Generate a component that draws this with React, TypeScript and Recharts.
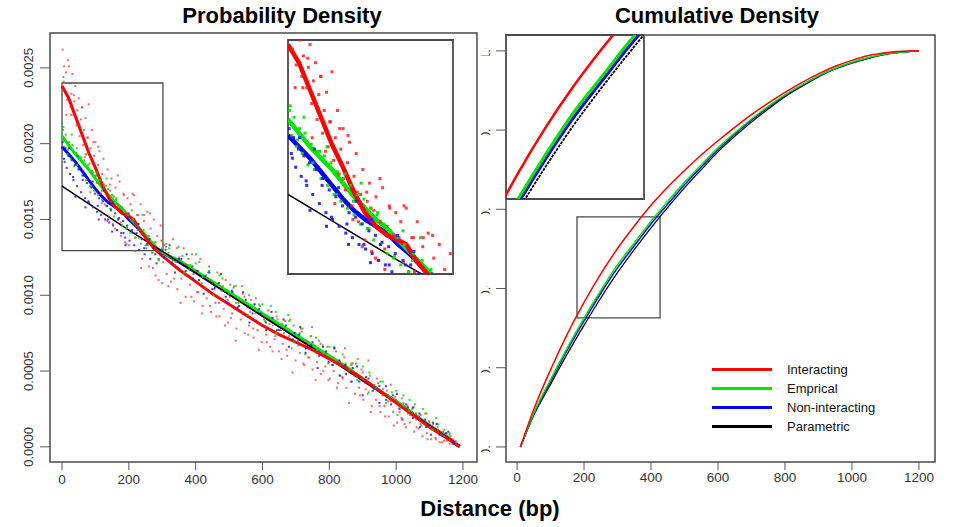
import React from 'react';
import { ComposedChart, Line, Scatter, XAxis, YAxis, ReferenceArea, Legend } from 'recharts';

// ---------------- data ----------------
const xTicks = [0, 200, 400, 600, 800, 1000, 1200];
const densityTicks = [0, 0.0005, 0.001, 0.0015, 0.002, 0.0025];
const cumulativeTicks = [0, 0.2, 0.4, 0.6, 0.8, 1.0];
const legendLabels = ['Interacting', 'Emprical', 'Non-interacting', 'Parametric'];
const panelTitles = ['Probability Density', 'Cumulative Density'];
const xAxisTitle = 'Distance (bp)';

// probability density lines: [distance bp, density]
const densInteracting = [
  [0, 0.00238], [20, 0.0023], [40, 0.00218], [60, 0.00206], [80, 0.00194], [100, 0.00184],
  [120, 0.00173], [140, 0.00164], [160, 0.00158], [180, 0.00154], [200, 0.00152], [215, 0.0015],
  [230, 0.00144], [250, 0.00138], [275, 0.00131], [300, 0.00126], [350, 0.00117], [400, 0.00109],
  [450, 0.00101], [500, 0.00094], [550, 0.00087], [600, 0.0008], [650, 0.00074], [700, 0.00069],
  [750, 0.00064], [800, 0.00058], [850, 0.00052], [900, 0.00045], [950, 0.00037], [1000, 0.00029],
  [1050, 0.00021], [1100, 0.00013], [1150, 0.00006], [1190, 0.0],
];
const densEmpirical = [
  [0, 0.00205], [20, 0.00199], [40, 0.00193], [60, 0.00188], [80, 0.00183], [100, 0.00177],
  [120, 0.00171], [140, 0.00166], [160, 0.00161], [180, 0.00157], [200, 0.00152], [220, 0.00147],
  [240, 0.00142], [260, 0.00137], [280, 0.00132], [300, 0.00128], [350, 0.00123], [400, 0.00116],
  [450, 0.00109], [500, 0.00102], [550, 0.00095], [600, 0.00088], [650, 0.00081], [700, 0.00074],
  [750, 0.00067], [800, 0.0006], [850, 0.00053], [900, 0.00045], [950, 0.00037], [1000, 0.0003],
  [1050, 0.00022], [1100, 0.00014], [1150, 0.00007], [1190, 0.0],
];
const densNonInteracting = [
  [0, 0.00198], [20, 0.00193], [40, 0.00188], [60, 0.00182], [80, 0.00176], [100, 0.0017],
  [120, 0.00165], [140, 0.00161], [160, 0.00158], [180, 0.00155], [200, 0.0015], [220, 0.00146],
  [240, 0.00141], [260, 0.00136], [280, 0.00131], [300, 0.00128], [350, 0.00122], [400, 0.00115],
  [450, 0.00108], [500, 0.00101], [550, 0.00094], [600, 0.00087], [650, 0.0008], [700, 0.00073],
  [750, 0.00066], [800, 0.00059], [850, 0.00052], [900, 0.00045], [950, 0.00037], [1000, 0.0003],
  [1050, 0.00022], [1100, 0.00014], [1150, 0.00007], [1190, 0.0],
];
const densParametric = [
  [0, 0.00172], [200, 0.00143], [400, 0.00115], [600, 0.00086], [800, 0.00058], [1000, 0.00029], [1190, 0.00001],
];

// scatter clouds: [distance bp, density in units of 1e-5]
const cloudUnit = 1e-5;
const cloudInteracting = [
  [2, 262], [4, 244], [6, 251], [8, 236], [12, 247], [15, 229], [18, 255], [22, 240], [25, 224], [28, 233],
  [31, 246], [34, 219], [37, 228], [40, 238], [43, 212], [46, 222], [50, 230], [53, 205], [56, 216], [60, 224],
  [63, 199], [66, 209], [70, 217], [73, 193], [76, 204], [80, 226], [83, 187], [86, 197], [90, 209], [93, 181],
  [96, 192], [100, 201], [104, 174], [108, 186], [112, 195], [116, 167], [120, 180], [124, 190], [128, 160],
  [132, 172], [136, 183], [140, 152], [144, 169], [148, 177], [152, 147], [156, 165], [160, 171], [164, 143],
  [168, 160], [172, 175], [176, 139], [180, 158], [184, 167], [188, 135], [192, 154], [196, 164], [200, 133],
  [205, 160], [210, 142], [215, 166], [220, 129], [225, 153], [230, 138], [235, 160], [240, 124], [245, 149],
  [250, 133], [255, 155], [260, 119], [265, 144], [270, 128], [275, 150], [280, 113], [285, 139], [290, 123],
  [295, 146], [300, 108],
  [5, 241], [13, 219], [21, 251], [27, 219], [36, 232], [44, 197], [52, 212], [59, 224], [68, 191], [77, 204],
  [85, 168], [94, 201], [101, 179], [109, 198], [118, 161], [126, 173], [135, 149], [143, 173], [151, 166],
  [159, 144], [167, 179], [176, 148], [185, 166], [193, 134], [202, 153], [211, 167], [219, 138], [228, 153],
  [237, 118], [246, 153], [254, 133], [263, 154], [272, 118], [281, 132], [289, 110], [297, 136],
  [306, 133], [313, 114], [319, 128], [326, 109], [332, 137], [338, 120], [345, 104],
  [351, 125], [357, 111], [364, 131], [370, 99], [376, 120], [383, 107], [389, 127], [395, 96], [402, 116],
  [408, 102], [414, 124], [421, 93], [427, 112], [433, 98], [440, 119], [446, 89], [452, 108], [459, 95],
  [465, 115], [471, 86], [478, 103], [484, 91], [490, 110], [497, 82], [503, 99], [509, 88], [516, 106],
  [522, 78], [528, 95], [535, 84], [541, 101], [547, 75], [554, 92], [560, 80], [566, 97], [573, 72], [579, 88],
  [585, 77], [592, 93], [598, 69], [604, 84], [611, 74], [617, 90], [623, 66], [630, 80], [636, 71], [642, 86],
  [649, 63], [655, 77], [661, 68], [668, 83], [674, 60], [680, 73], [687, 65], [693, 80], [699, 57], [706, 70],
  [712, 62], [718, 76], [725, 54], [731, 67], [737, 59], [744, 73], [750, 51], [756, 64], [763, 56], [769, 70],
  [775, 48], [782, 61], [788, 53], [794, 66], [801, 45], [807, 57], [813, 50], [820, 63], [826, 42], [832, 54],
  [839, 46], [845, 59], [851, 39], [858, 50], [864, 43], [870, 55], [877, 35], [883, 46], [889, 39], [896, 51],
  [902, 31], [908, 42], [915, 35], [921, 47], [927, 27], [934, 38], [940, 31], [946, 42], [953, 23], [959, 34],
  [965, 27], [972, 37], [978, 20], [984, 30], [991, 23], [997, 33], [1003, 16], [1010, 26], [1016, 19],
  [1022, 29], [1029, 13], [1035, 22], [1041, 16], [1048, 25], [1054, 10], [1060, 18], [1067, 12], [1073, 21],
  [1079, 7], [1086, 15], [1092, 9], [1098, 17], [1105, 5], [1111, 11], [1118, 6], [1124, 13], [1130, 3],
  [1137, 8], [1143, 4], [1150, 9], [1160, 2], [1170, 5], [1180, 1],
  [303, 122], [311, 132], [318, 106], [329, 122], [336, 111], [344, 131], [355, 95], [361, 121], [370, 113],
  [378, 124], [387, 99], [393, 114], [404, 102], [411, 122], [419, 88], [428, 105], [436, 111], [443, 93],
  [455, 104], [462, 86], [470, 95], [481, 106], [488, 80], [496, 97], [505, 85], [513, 105], [520, 70],
  [531, 96], [538, 88], [546, 99], [557, 74], [563, 89], [572, 78], [580, 98], [589, 64], [595, 81], [606, 86],
  [613, 69], [621, 81], [630, 63], [638, 73], [645, 84], [657, 58], [664, 75], [672, 64], [683, 84], [690, 49],
  [698, 75], [707, 67], [715, 78], [722, 55], [733, 69], [740, 59], [748, 79], [759, 44], [765, 62], [774, 68],
  [782, 50], [791, 62], [797, 44], [808, 54], [815, 65], [823, 39], [832, 56], [840, 45], [847, 65], [859, 29],
  [866, 55], [874, 47], [885, 58], [892, 34], [900, 49], [909, 38], [917, 57], [924, 23], [935, 39], [942, 45],
  [950, 27], [961, 38], [967, 20], [976, 30], [984, 41], [993, 14], [999, 31], [1010, 23], [1017, 32],
  [1025, 15], [1034, 27], [1042, 21], [1049, 26], [1061, 13], [1068, 20], [1076, 14], [1087, 22], [1094, 5],
  [1102, 13], [1111, 15], [1119, 5], [1126, 11], [1137, 3], [1144, 11], [1152, 4], [1163, 7], [1169, 2], [1178, 4],
];
const cloudEmpirical = [
  [3, 209], [7, 198], [11, 206], [16, 193], [21, 201], [26, 190], [31, 199], [36, 185], [42, 194], [48, 183],
  [54, 191], [60, 179], [66, 189], [72, 176], [78, 186], [84, 172], [90, 182], [96, 169], [102, 179], [108, 166],
  [114, 176], [120, 163], [126, 172], [132, 159], [138, 170], [144, 157], [150, 166], [156, 152], [162, 163],
  [168, 150], [174, 159], [180, 146], [186, 156], [192, 144], [198, 153], [205, 141], [212, 150], [220, 138],
  [228, 146], [236, 134], [244, 143], [252, 131], [260, 139], [270, 128], [280, 135], [290, 124], [300, 131],
  [4, 211], [17, 196], [29, 206], [45, 186], [58, 191], [71, 193], [88, 172], [103, 181], [119, 169], [133, 177],
  [147, 157], [163, 164], [178, 158], [194, 145], [209, 156], [226, 143], [241, 153], [257, 133], [274, 135],
  [288, 124],
  [320, 131], [340, 122], [360, 126], [380, 117], [400, 121], [420, 112], [440, 116], [460, 107], [480, 111],
  [500, 101], [520, 106], [540, 96], [560, 100], [580, 90], [600, 94], [620, 85], [640, 89], [660, 79], [680, 83],
  [700, 74], [720, 78], [740, 68], [760, 72], [780, 62], [800, 66], [820, 57], [840, 61], [860, 51], [880, 55],
  [900, 45], [920, 49], [940, 39], [960, 43], [980, 33], [1000, 37], [1020, 28], [1040, 31], [1060, 22],
  [1080, 25], [1100, 16], [1120, 19], [1140, 10], [1160, 8], [1180, 3],
  [312, 134], [331, 123], [349, 132], [366, 115], [384, 120], [401, 127], [418, 108], [437, 115], [453, 100],
  [471, 113], [488, 103], [504, 107], [521, 95], [539, 106], [556, 87], [573, 94], [590, 94], [608, 83],
  [625, 93], [642, 75], [659, 81], [677, 87], [694, 69], [711, 75], [728, 61], [746, 73], [763, 64], [780, 67],
  [797, 55], [815, 66], [832, 47], [849, 55], [866, 54], [884, 44], [901, 53], [918, 36], [935, 41], [953, 43],
  [970, 29], [987, 36], [1004, 21], [1022, 34], [1039, 24], [1056, 28], [1073, 15], [1091, 22], [1108, 11],
  [1125, 15], [1142, 7], [1160, 9],
];
const cloudNonInteracting = [
  [2, 201], [6, 190], [10, 197], [14, 184], [19, 192], [24, 180], [29, 189], [34, 176], [39, 186], [45, 172],
  [51, 183], [57, 168], [63, 179], [69, 164], [75, 174], [81, 161], [87, 171], [93, 158], [99, 167], [105, 155],
  [111, 164], [117, 153], [123, 162], [129, 150], [135, 159], [141, 148], [147, 156], [153, 146], [159, 154],
  [165, 143], [171, 151], [177, 141], [183, 149], [189, 138], [195, 146], [202, 136], [209, 143], [216, 133],
  [223, 141], [231, 130], [239, 137], [247, 127], [255, 134], [264, 124], [273, 131], [283, 121], [293, 127],
  [40, 165], [70, 158], [110, 150], [150, 142], [190, 133],
  [8, 188], [21, 197], [33, 178], [48, 192], [62, 176], [79, 162], [92, 175], [107, 159], [124, 169], [138, 150],
  [152, 161], [168, 150], [184, 141], [199, 154], [214, 141], [229, 147], [246, 131], [262, 137], [279, 127],
  [296, 130],
  [310, 130], [330, 121], [350, 124], [370, 116], [390, 119], [410, 110], [430, 113], [450, 104], [470, 108],
  [490, 99], [510, 102], [530, 93], [550, 97], [570, 88], [590, 91], [610, 82], [630, 85], [650, 77], [670, 80],
  [690, 71], [710, 74], [730, 65], [750, 69], [770, 60], [790, 63], [810, 54], [830, 57], [850, 48], [870, 52],
  [890, 43], [910, 46], [930, 37], [950, 40], [970, 31], [990, 34], [1010, 25], [1030, 28], [1050, 19],
  [1070, 22], [1090, 13], [1110, 16], [1130, 8], [1150, 9], [1170, 3],
  [305, 125], [322, 133], [338, 115], [357, 124], [373, 127], [392, 111], [406, 116], [424, 101], [441, 115],
  [457, 105], [476, 114], [493, 95], [508, 103], [526, 92], [542, 102], [561, 82], [577, 94], [594, 88],
  [611, 77], [627, 89], [644, 77], [663, 84], [679, 66], [696, 75], [713, 79], [729, 62], [746, 67], [765, 52],
  [781, 66], [798, 56], [815, 65], [831, 47], [848, 54], [867, 43], [883, 53], [900, 34], [917, 45], [933, 39],
  [950, 29], [969, 40], [985, 28], [1002, 35], [1019, 18], [1035, 26], [1052, 26], [1071, 13], [1087, 18],
  [1104, 8], [1121, 15], [1139, 7], [1156, 10], [1173, 2],
];

// cumulative density lines: [distance bp, cumulative fraction]
const cumInteracting = [
  [10, 0.0], [50, 0.095], [100, 0.195], [150, 0.285], [200, 0.365], [250, 0.437], [300, 0.501], [350, 0.558],
  [400, 0.61], [450, 0.656], [500, 0.698], [550, 0.737], [600, 0.773], [650, 0.807], [700, 0.839], [750, 0.868],
  [800, 0.895], [850, 0.92], [900, 0.942], [950, 0.961], [1000, 0.976], [1050, 0.988], [1100, 0.995],
  [1150, 0.999], [1200, 1.0],
];
const cumEmpirical = [
  [10, 0.0], [50, 0.085], [100, 0.17], [150, 0.25], [200, 0.325], [250, 0.395], [300, 0.46], [350, 0.515],
  [400, 0.57], [450, 0.62], [500, 0.668], [550, 0.712], [600, 0.755], [650, 0.793], [700, 0.828], [750, 0.86],
  [800, 0.889], [850, 0.914], [900, 0.937], [950, 0.956], [1000, 0.971], [1050, 0.983], [1100, 0.992],
  [1150, 0.997], [1200, 1.0],
];
const cumNonInteracting = [
  [10, 0.0], [50, 0.083], [100, 0.165], [150, 0.245], [200, 0.318], [250, 0.388], [300, 0.452], [350, 0.508],
  [400, 0.563], [450, 0.613], [500, 0.662], [550, 0.707], [600, 0.75], [650, 0.789], [700, 0.825], [750, 0.857],
  [800, 0.887], [850, 0.912], [900, 0.936], [950, 0.955], [1000, 0.97], [1050, 0.982], [1100, 0.992],
  [1150, 0.997], [1200, 1.0],
];
const cumParametric = [
  [10, 0.0], [50, 0.08], [100, 0.158], [150, 0.235], [200, 0.307], [250, 0.376], [300, 0.44], [350, 0.498],
  [400, 0.553], [450, 0.605], [500, 0.654], [550, 0.7], [600, 0.745], [650, 0.784], [700, 0.82], [750, 0.853],
  [800, 0.884], [850, 0.91], [900, 0.934], [950, 0.954], [1000, 0.969], [1050, 0.981], [1100, 0.991],
  [1150, 0.997], [1200, 1.0],
];

// ---------------- styles ----------------
const RED = '#ff0000';
const GREEN = '#00e600';
const BLUE = '#0000ff';
const BLACK = '#000000';
const legendColors = [RED, GREEN, BLUE, BLACK];
const FONT = '"Liberation Sans", Arial, Helvetica, sans-serif';
const FRAME = '#4a4a4a';

const toPts = (pairs: number[][]) => pairs.map(([x, y]) => ({ x, y }));
const toCloud = (pairs: number[][]) => pairs.map(([x, y]) => ({ x, y: y * cloudUnit }));

const dRed = toPts(densInteracting);
const dGreen = toPts(densEmpirical);
const dBlue = toPts(densNonInteracting);
const dBlack = toPts(densParametric);
const cRed = toCloud(cloudInteracting);
const cGreen = toCloud(cloudEmpirical);
const cBlue = toCloud(cloudNonInteracting);
const kRed = toPts(cumInteracting);
const kGreen = toPts(cumEmpirical);
const kBlue = toPts(cumNonInteracting);
const kBlack = toPts(cumParametric);

const square = (color: string, size: number, opacity: number) => (props: any) => {
  const { cx, cy } = props;
  if (cx == null || cy == null || isNaN(cx) || isNaN(cy)) return <g />;
  return <rect x={cx - size / 2} y={cy - size / 2} width={size} height={size} fill={color} fillOpacity={opacity} />;
};

const LeftYTick = (props: any) => {
  const { x, y, payload } = props;
  return (
    <text x={x} y={y} transform={`rotate(-90, ${x}, ${y})`} textAnchor="middle" fontSize={13} fill="#333" fontFamily={FONT}>
      {Number(payload.value).toFixed(4)}
    </text>
  );
};

const RightYTick = (props: any) => {
  const { x, y, payload, index } = props;
  const id = `rclip-${index}`;
  return (
    <g>
      <defs>
        <clipPath id={id}>
          <rect x={x - 4} y={y - 20} width={7} height={40} />
        </clipPath>
      </defs>
      <text x={x + 1} y={y} transform={`rotate(-90, ${x + 1}, ${y})`} textAnchor="middle" fontSize={13} fill="#333" fontFamily={FONT} clipPath={`url(#${id})`}>
        {Number(payload.value).toFixed(1)}
      </text>
    </g>
  );
};

const LegendBox = () => (
  <div style={{ fontFamily: FONT, fontSize: 13, color: '#111' }}>
    {legendLabels.map((label, i) => (
      <div key={label} style={{ display: 'flex', alignItems: 'center', height: 19 }}>
        <svg width={62} height={19} style={{ display: 'block' }}>
          <line x1={1} x2={61} y1={9.5} y2={9.5} stroke={legendColors[i]} strokeWidth={3} />
        </svg>
        <span style={{ marginLeft: 14, lineHeight: '19px' }}>{label}</span>
      </div>
    ))}
  </div>
);

const xTickStyle = { fontSize: 13.5, fill: '#333', fontFamily: FONT };

const DENS_X: [number, number] = [-36, 1242];
const DENS_Y: [number, number] = [-0.0001, 0.00273];
const CUM_X: [number, number] = [-33, 1248];
const CUM_Y: [number, number] = [-0.038, 1.04];

export default function App() {
  return (
    <div style={{ position: 'absolute', left: 0, top: 0, width: 953, height: 527, background: '#fff', overflow: 'hidden' }}>
      {/* titles */}
      <div style={{ position: 'absolute', left: 132, top: 4, width: 300, textAlign: 'center', font: `bold 22px ${FONT}`, lineHeight: '24px', color: '#000' }}>
        {panelTitles[0]}
      </div>
      <div style={{ position: 'absolute', left: 567, top: 4, width: 300, textAlign: 'center', font: `bold 22px ${FONT}`, lineHeight: '24px', color: '#000' }}>
        {panelTitles[1]}
      </div>
      <div style={{ position: 'absolute', left: 340, top: 497, width: 300, textAlign: 'center', font: `bold 22px ${FONT}`, lineHeight: '24px', color: '#000' }}>
        {xAxisTitle}
      </div>

      {/* left: probability density */}
      <div style={{ position: 'absolute', left: 0, top: 0 }}>
        <ComposedChart width={480} height={527} margin={{ top: 33, right: 3, bottom: 35, left: 0 }}>
          <XAxis type="number" dataKey="x" domain={DENS_X} allowDataOverflow ticks={xTicks} interval={0}
            tickSize={8} tickMargin={4} axisLine={false} tickLine={{ stroke: '#555' }} tick={xTickStyle} height={30} />
          <YAxis type="number" dataKey="y" domain={DENS_Y} allowDataOverflow ticks={densityTicks} interval={0}
            tickSize={10} tickMargin={7} axisLine={false} tickLine={{ stroke: '#555' }} tick={<LeftYTick />} width={50} />
          <Scatter data={cRed} dataKey="y" shape={square('#ff2a2a', 2, 0.7)} isAnimationActive={false} />
          <Scatter data={cGreen} dataKey="y" shape={square('#00dd00', 2, 0.85)} isAnimationActive={false} />
          <Scatter data={cBlue} dataKey="y" shape={square('#1a1aff', 2, 0.85)} isAnimationActive={false} />
          <Line data={dBlue} dataKey="y" stroke={BLUE} strokeWidth={3} dot={false} activeDot={false} isAnimationActive={false} type="linear" />
          <Line data={dGreen} dataKey="y" stroke={GREEN} strokeWidth={3} dot={false} activeDot={false} isAnimationActive={false} type="linear" />
          <Line data={dBlack} dataKey="y" stroke={BLACK} strokeWidth={1.5} dot={false} activeDot={false} isAnimationActive={false} type="linear" />
          <Line data={dRed} dataKey="y" stroke={RED} strokeWidth={3} dot={false} activeDot={false} isAnimationActive={false} type="linear" />
          <ReferenceArea x1={0} x2={302} y1={0.001294} y2={0.0024} fill="none" stroke={FRAME} strokeWidth={1.3} ifOverflow="visible" />
          <ReferenceArea x1={DENS_X[0]} x2={DENS_X[1]} y1={DENS_Y[0]} y2={DENS_Y[1]} fill="none" stroke={FRAME} strokeWidth={1.5} ifOverflow="visible" />
        </ComposedChart>
      </div>

      {/* left inset */}
      <div style={{ position: 'absolute', left: 287, top: 39, background: '#fff' }}>
        <ComposedChart width={167} height={236} margin={{ top: 1, right: 1, bottom: 1, left: 1 }}>
          <XAxis type="number" dataKey="x" domain={[0, 300]} allowDataOverflow hide />
          <YAxis type="number" dataKey="y" domain={[0.00137, 0.0024]} allowDataOverflow hide />
          <Scatter data={cRed} dataKey="y" shape={square('#ff2020', 3, 0.85)} isAnimationActive={false} />
          <Scatter data={cGreen} dataKey="y" shape={square('#00dd00', 3, 0.9)} isAnimationActive={false} />
          <Scatter data={cBlue} dataKey="y" shape={square('#1a1aff', 3, 0.9)} isAnimationActive={false} />
          <Line data={dBlue} dataKey="y" stroke={BLUE} strokeWidth={4.5} dot={false} activeDot={false} isAnimationActive={false} type="linear" />
          <Line data={dGreen} dataKey="y" stroke={GREEN} strokeWidth={4.5} dot={false} activeDot={false} isAnimationActive={false} type="linear" />
          <Line data={dBlack} dataKey="y" stroke={BLACK} strokeWidth={1.5} dot={false} activeDot={false} isAnimationActive={false} type="linear" />
          <Line data={dRed} dataKey="y" stroke={RED} strokeWidth={4.5} dot={false} activeDot={false} isAnimationActive={false} type="linear" />
          <ReferenceArea x1={0} x2={300} y1={0.00137} y2={0.0024} fill="none" stroke={FRAME} strokeWidth={1.8} ifOverflow="visible" />
        </ComposedChart>
      </div>

      {/* right: cumulative density */}
      <div style={{ position: 'absolute', left: 466, top: 0 }}>
        <ComposedChart width={487} height={527} margin={{ top: 35, right: 18, bottom: 35, left: 20 }}>
          <XAxis type="number" dataKey="x" domain={CUM_X} allowDataOverflow ticks={xTicks} interval={0}
            tickSize={8} tickMargin={2} axisLine={false} tickLine={{ stroke: '#555' }} tick={xTickStyle} height={30} />
          <YAxis type="number" dataKey="y" domain={CUM_Y} allowDataOverflow ticks={cumulativeTicks} interval={0}
            tickSize={10} tickMargin={7} axisLine={false} tickLine={{ stroke: '#555' }} tick={<RightYTick />} width={20} />
          <Line data={kBlack} dataKey="y" stroke={BLACK} strokeWidth={1.2} dot={false} activeDot={false} isAnimationActive={false} type="monotone" />
          <Line data={kBlue} dataKey="y" stroke={BLUE} strokeWidth={1.5} dot={false} activeDot={false} isAnimationActive={false} type="monotone" />
          <Line data={kGreen} dataKey="y" stroke={GREEN} strokeWidth={1.5} dot={false} activeDot={false} isAnimationActive={false} type="monotone" />
          <Line data={kRed} dataKey="y" stroke={RED} strokeWidth={1.5} dot={false} activeDot={false} isAnimationActive={false} type="monotone" />
          <ReferenceArea x1={179} x2={427} y1={0.326} y2={0.581} fill="none" stroke={FRAME} strokeWidth={1.3} ifOverflow="visible" />
          <ReferenceArea x1={CUM_X[0]} x2={CUM_X[1]} y1={CUM_Y[0]} y2={CUM_Y[1]} fill="none" stroke={FRAME} strokeWidth={1.5} ifOverflow="visible" />
          <Legend layout="vertical" align="center" verticalAlign="middle" content={<LegendBox />}
            wrapperStyle={{ position: 'absolute', left: 245, top: 360, width: 'auto' }} />
        </ComposedChart>
      </div>

      {/* right inset */}
      <div style={{ position: 'absolute', left: 505, top: 34, background: '#fff' }}>
        <ComposedChart width={140} height={166} margin={{ top: 1, right: 1, bottom: 1, left: 1 }}>
          <XAxis type="number" dataKey="x" domain={[179, 427]} allowDataOverflow hide />
          <YAxis type="number" dataKey="y" domain={[0.326, 0.581]} allowDataOverflow hide />
          <Line data={kBlack} dataKey="y" stroke={BLACK} strokeWidth={1.8} strokeDasharray="3 1" dot={false} activeDot={false} isAnimationActive={false} type="monotone" />
          <Line data={kBlue} dataKey="y" stroke={BLUE} strokeWidth={3} dot={false} activeDot={false} isAnimationActive={false} type="monotone" />
          <Line data={kGreen} dataKey="y" stroke={GREEN} strokeWidth={3} dot={false} activeDot={false} isAnimationActive={false} type="monotone" />
          <Line data={kRed} dataKey="y" stroke={RED} strokeWidth={2.5} dot={false} activeDot={false} isAnimationActive={false} type="monotone" />
          <ReferenceArea x1={179} x2={427} y1={0.326} y2={0.581} fill="none" stroke={FRAME} strokeWidth={1.8} ifOverflow="visible" />
        </ComposedChart>
      </div>
    </div>
  );
}
